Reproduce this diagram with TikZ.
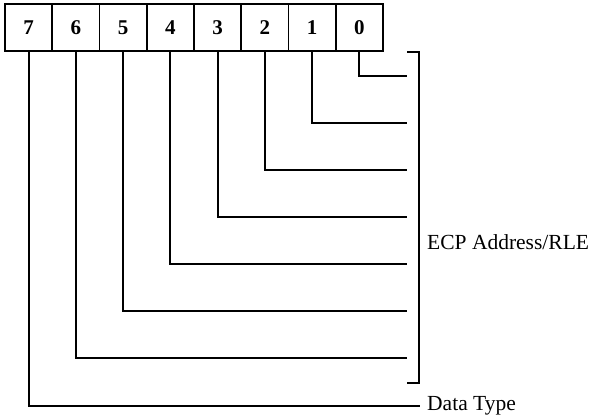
\documentclass[tikz,border=0pt]{standalone}
\usepackage{fontspec}
\setmainfont{Liberation Serif}
\begin{document}
\begin{tikzpicture}[x=1pt,y=-1pt,
  bitbox/.style={draw,line width=1.9pt,minimum width=47.25pt,minimum height=47pt,inner sep=0pt,font=\fontsize{21}{21}\selectfont\bfseries},
  wire/.style={line width=1.8pt},
  lbl/.style={anchor=west,inner sep=0pt,font=\fontsize{21.5}{22}\selectfont}]
\useasboundingbox (0,0) rectangle (589,419);
\foreach \b [count=\i from 0] in {7,6,5,4,3,2,1,0} {
  \node[bitbox] (b\b) at ({5+47.25*(\i+0.5)},27.5) {\b};
}
\foreach \b in {0,...,6} {
  \coordinate (e\b) at (407,{76+47*\b});
  \draw[wire] (b\b.south) |- (e\b);
}
\node[lbl] (dt) at (427,406) {Data Type};
\draw[wire,shorten >=7pt] (b7.south) |- (dt.west);
\coordinate (bt) at (407,52);
\coordinate (bb) at (407,383);
\draw[wire] (bt) -- ++(12,0) |- (bb);
\node[lbl] (ecp) at (427,242) {ECP Address/RLE};
\end{tikzpicture}
\end{document}
